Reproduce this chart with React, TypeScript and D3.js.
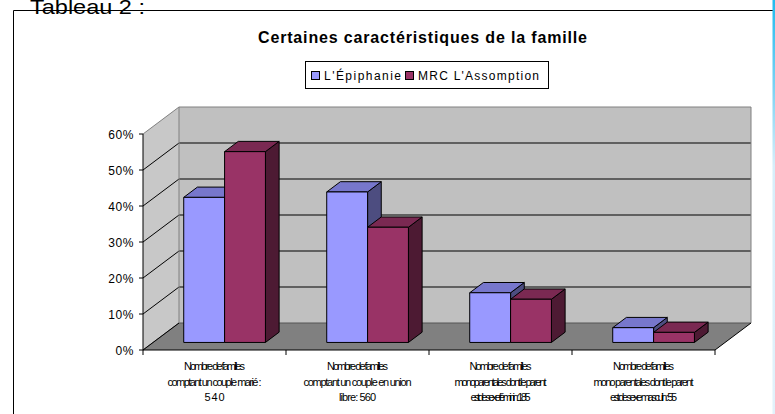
import React from "react";
import * as d3 from "d3";

// ---------- data ----------
const categories = ["cat1", "cat2", "cat3", "cat4"];
const categoryLabels: string[][] = [
  ["Nombre de familles", "comptant un couple marié :", "540"],
  ["Nombre de familles", "comptant un couple en union", "libre: 560"],
  ["Nombre de familles", "monoparentales dont le parent", "est de sexe féminin : 185"],
  ["Nombre de familles", "mono parentales dont le parent", "est de sexe masculin : 55"],
];
const seriesNames = ["L'Épiphanie", "MRC L'Assomption"];
const epiphanie = [0.403, 0.418, 0.138, 0.041];
const assomption = [0.53, 0.32, 0.12, 0.028];
const yTicks = [0, 0.1, 0.2, 0.3, 0.4, 0.5, 0.6];
const title = "Certaines caractéristiques de la famille";
const heading = "Tableau 2 :";

// ---------- layout / style ----------
const W = 775;
const H = 414;
const DX = 36;
const DY = 27;
const Z0 = 0.28;
const Z1 = 0.66;
const labelWidths = [
  [61, 94, 20],
  [61, 108, 37],
  [62, 92, 60],
  [61, 100, 67],
];
const colors = [
  { front: "#9999FF", top: "#7777CC", side: "#4D4D80" },
  { front: "#993366", top: "#7A2952", side: "#4D1A33" },
];

const x = d3.scaleBand<string>().domain(categories).range([143, 715]).padding(0);
const xs = d3
  .scaleBand<number>()
  .domain([0, 1])
  .range([0, x.bandwidth()])
  .paddingInner(0)
  .paddingOuter(0.75);
const y = d3.scaleLinear().domain([0, 0.6]).range([350, 134]);

const P = (px: number, py: number, z: number) => [px + DX * z, py - DY * z];
const pts = (arr: number[][]) => arr.map((p) => p.join(",")).join(" ");

export default function App() {
  const x0 = x.range()[0];
  const x1 = x.range()[1];
  const yMin = y(0);
  const yMax = y(0.6);

  const series = [epiphanie, assomption];

  const bars: React.ReactNode[] = [];
  categories.forEach((c, ci) => {
    series.forEach((vals, si) => {
      const v = vals[ci];
      const l = (x(c) as number) + (xs(si) as number);
      const r = l + xs.bandwidth();
      const t = y(v);
      const b = y(0);
      const col = colors[si];
      const fl = P(l, b, Z0), fr = P(r, b, Z0), ftl = P(l, t, Z0), ftr = P(r, t, Z0);
      const btl = P(l, t, Z1), btr = P(r, t, Z1), bbr = P(r, b, Z1);
      bars.push(
        <g key={c + si} stroke="#000" strokeWidth={1} strokeLinejoin="round">
          <polygon points={pts([ftr, btr, bbr, fr])} fill={col.side} />
          <polygon points={pts([ftl, ftr, btr, btl])} fill={col.top} />
          <polygon points={pts([fl, ftl, ftr, fr])} fill={col.front} />
        </g>
      );
    });
  });

  return (
    <svg
      width={W}
      height={H}
      style={{ position: "absolute", left: 0, top: 0, background: "#fff" }}
      fontFamily="'Liberation Sans', Arial, sans-serif"
    >
      <defs>
        <linearGradient id="edge" x1="0" y1="0" x2="0" y2="1">
          <stop offset="0" stopColor="#22BBEE" />
          <stop offset="0.22" stopColor="#7FD3F3" />
          <stop offset="0.4" stopColor="#D6EEFA" />
          <stop offset="1" stopColor="#E2F2FB" />
        </linearGradient>
      </defs>
      {/* outer frame */}
      <line x1={13.5} y1={10.5} x2={773} y2={10.5} stroke="#000" />
      <line x1={13.5} y1={10.5} x2={13.5} y2={H} stroke="#000" />
      <rect x={772.5} y={0} width={3} height={H} fill="url(#edge)" />
      <text
        x={30}
        y={14}
        fontSize={21}
        fontWeight="normal"
        fontFamily="'Liberation Sans', Arial, sans-serif"
        textLength={115}
        lengthAdjust="spacingAndGlyphs"
        fill="#000"
      >
        {heading}
      </text>

      {/* title */}
      <text
        x={422.5}
        y={42.5}
        textAnchor="middle"
        fontSize={16}
        fontWeight="bold"
        textLength={329}
        lengthAdjust="spacing"
        fill="#000"
      >
        {title}
      </text>

      {/* legend */}
      <rect x={305.5} y={61.5} width={243} height={27} fill="#fff" stroke="#000" />
      {seriesNames.map((s, i) => {
        const lx = i === 0 ? 311 : 405;
        const tl = i === 0 ? 77 : 121;
        return (
          <g key={s}>
            <rect x={lx + 0.5} y={71.5} width={8} height={8} fill={colors[i].front} stroke="#000" />
            <text x={lx + 13} y={80} fontSize={12} textLength={tl} lengthAdjust="spacing" fill="#000">
              {s}
            </text>
          </g>
        );
      })}

      {/* side wall */}
      <polygon
        points={pts([P(x0, yMin, 0), P(x0, yMax, 0), P(x0, yMax, 1), P(x0, yMin, 1)])}
        fill="#C8C8C8"
      />
      {/* back wall */}
      <polygon
        points={pts([P(x0, yMin, 1), P(x0, yMax, 1), P(x1, yMax, 1), P(x1, yMin, 1)])}
        fill="#C0C0C0"
      />
      {/* floor */}
      <polygon
        points={pts([P(x0, yMin, 0), P(x0, yMin, 1), P(x1, yMin, 1), P(x1, yMin, 0)])}
        fill="#808080"
      />
      {/* gridlines */}
      {yTicks.map((t) => {
        const a = P(x0, y(t), 0), b = P(x0, y(t), 1), c = P(x1, y(t), 1);
        const col = t === 0.6 ? "#808080" : "#000";
        return (
          <polyline key={t} points={pts([a, b, c])} fill="none" stroke={t === 0 ? "#555" : col} strokeWidth={1} />
        );
      })}
      {/* wall edges */}
      <line x1={x0 + DX} y1={yMax - DY} x2={x0 + DX} y2={yMin - DY} stroke="#808080" />
      <line x1={x1 + DX} y1={yMax - DY} x2={x1 + DX} y2={yMin - DY} stroke="#808080" />
      <line x1={x1} y1={yMin} x2={x1 + DX} y2={yMin - DY} stroke="#000" />
      <line x1={x0} y1={yMin} x2={x0 + DX} y2={yMin - DY} stroke="#000" />

      {bars}

      {/* axes */}
      <line x1={x0} y1={yMax} x2={x0} y2={yMin} stroke="#000" />
      <line x1={x0} y1={yMin} x2={x1} y2={yMin} stroke="#000" />
      {yTicks.map((t) => (
        <g key={"yt" + t}>
          <line x1={x0 - 4} y1={y(t)} x2={x0} y2={y(t)} stroke="#000" />
          <text
            x={134}
            y={y(t) + 4.5}
            textAnchor="end"
            fontSize={12}
            letterSpacing={0.6}
            fill="#000"
          >
            {d3.format(".0%")(t)}
          </text>
        </g>
      ))}
      {[...categories.map((c) => x(c) as number), x1].map((tx, i) => (
        <line key={"xt" + i} x1={tx} y1={yMin} x2={tx} y2={yMin + 5} stroke="#000" />
      ))}
      {categories.map((c, ci) => {
        const cx = (x(c) as number) + x.bandwidth() / 2;
        return (
          <g key={"lab" + c}>
            {categoryLabels[ci].map((line, li) => (
              <text
                key={li}
                x={cx}
                y={370 + li * 15.5}
                textAnchor="middle"
                fontSize={11}
                textLength={labelWidths[ci][li]}
                lengthAdjust="spacing"
                fill="#000"
              >
                {line}
              </text>
            ))}
          </g>
        );
      })}
    </svg>
  );
}
